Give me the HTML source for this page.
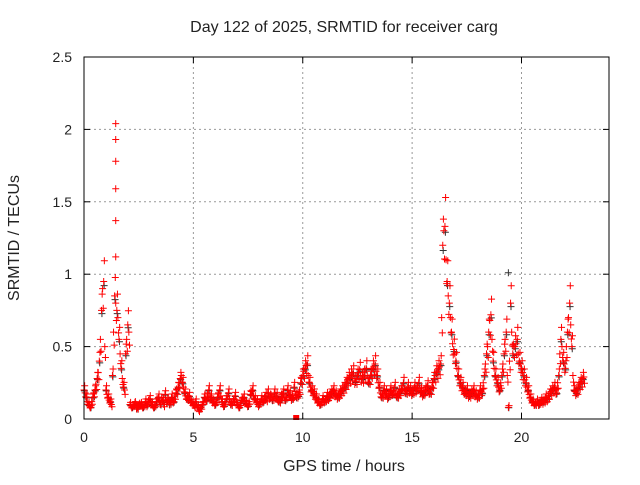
<!DOCTYPE html>
<html><head><meta charset="utf-8"><style>
body{margin:0;background:#fff;}
svg text{font-family:"Liberation Sans",sans-serif;font-size:14px;fill:#222;}
svg text.big{font-size:16px;}
</style></head><body>
<svg id="chart" width="640" height="480" xmlns="http://www.w3.org/2000/svg">
<text class="big" x="344" y="32" text-anchor="middle">Day 122 of 2025, SRMTID for receiver carg</text>
<text class="big" x="344" y="471" text-anchor="middle">GPS time / hours</text>
<text class="big" transform="translate(19,238) rotate(-90)" text-anchor="middle">SRMTID / TECUs</text>
<g id="grid"></g>
<g id="ticks"></g>
<g id="marks"></g>
<rect x="84" y="57" width="525" height="362" fill="none" stroke="#000" stroke-width="1"/>
</svg>
<script>
const xTicks=[0,5,10,15,20];
const yTicks=[0,0.5,1,1.5,2,2.5];
const yTickLabels=["0","0.5","1","1.5","2","2.5"];
const vals1=[0.2,0.15,0.1,0.08,0.15,0.2,0.28,0.4,0.75,0.95,
0.2,0.15,0.12,0.3,0.85,0.75,0.55,0.35,0.22,0.45,
0.65,0.1,0.08,0.1,0.07,0.09,0.1,0.08,0.12,0.1,
0.14,0.1,0.08,0.12,0.15,0.1,0.13,0.17,0.12,0.1,
0.15,0.12,0.18,0.22,0.28,0.25,0.18,0.14,0.16,0.12,
0.1,0.12,0.08,0.07,0.1,0.15,0.13,0.2,0.15,0.12,
0.1,0.15,0.2,0.12,0.09,0.14,0.18,0.1,0.12,0.16,
0.1,0.08,0.13,0.15,0.11,0.09,0.17,0.2,0.14,0.12,
0.1,0.14,0.12,0.16,0.18,0.15,0.13,0.18,0.16,0.12,
0.15,0.18,0.13,0.2,0.17,0.14,0.22,0.15,0.16,0.25,
0.3,0.35,0.38,0.25,0.2,0.18,0.15,0.12,0.1,0.14,
0.12,0.16,0.15,0.18,0.2,0.17,0.15,0.18,0.2,0.22,
0.25,0.28,0.3,0.32,0.26,0.3,0.34,0.28,0.3,0.35,
0.25,0.3,0.35,0.38,0.3,0.22,0.15,0.2,0.18,0.15,
0.2,0.17,0.22,0.15,0.18,0.2,0.25,0.18,0.22,0.2,
0.18,0.22,0.2,0.25,0.19,0.17,0.2,0.23,0.18,0.22,
0.28,0.32,0.35,0.38,1.2,1.33,0.95,0.8,0.6,0.48,
0.4,0.3,0.25,0.22,0.18,0.2,0.16,0.18,0.2,0.17,
0.15,0.2,0.18,0.3,0.45,0.6,0.72,0.4,0.3,0.25,
0.2,0.3,0.45,0.6,0.08,0.8,0.45,0.5,0.55,0.4,
0.35,0.3,0.25,0.2,0.15,0.12,0.1,0.12,0.1,0.13,
0.12,0.15,0.14,0.18,0.2,0.22,0.18,0.3,0.55,0.4,
0.35,0.6,0.8,0.5,0.2,0.18,0.22,0.25,0.28];
const vals2=[0.18,0.12,0.09,0.12,0.18,0.24,0.32,0.55,0.9,0.5,
0.17,0.13,0.1,0.6,0.8,0.7,0.45,0.28,0.2,0.55,
0.6,0.09,0.1,0.12,0.08,0.11,0.09,0.1,0.1,0.13,
0.12,0.09,0.1,0.14,0.12,0.15,0.1,0.13,0.15,0.12,
0.13,0.16,0.2,0.25,0.3,0.22,0.16,0.15,0.13,0.11,
0.09,0.1,0.06,0.08,0.12,0.14,0.18,0.16,0.13,0.11,
0.13,0.18,0.16,0.1,0.12,0.16,0.14,0.11,0.14,0.13,
0.09,0.11,0.14,0.13,0.1,0.12,0.19,0.16,0.13,0.1,
0.12,0.13,0.15,0.14,0.16,0.17,0.15,0.16,0.14,0.13,
0.17,0.15,0.16,0.18,0.15,0.16,0.19,0.17,0.2,0.28,
0.33,0.37,0.3,0.22,0.19,0.16,0.13,0.11,0.12,0.13,
0.14,0.15,0.17,0.19,0.18,0.16,0.17,0.19,0.21,0.24,
0.27,0.29,0.31,0.28,0.28,0.32,0.3,0.29,0.33,0.3,
0.28,0.33,0.36,0.33,0.25,0.18,0.17,0.19,0.16,0.18,
0.19,0.2,0.18,0.17,0.19,0.23,0.21,0.2,0.21,0.19,
0.2,0.21,0.23,0.21,0.18,0.19,0.22,0.2,0.2,0.25,
0.3,0.33,0.36,0.7,1.3,1.1,0.85,0.7,0.52,0.45,
0.35,0.27,0.23,0.2,0.19,0.17,0.17,0.19,0.18,0.16,
0.17,0.19,0.25,0.38,0.5,0.68,0.55,0.35,0.27,0.22,
0.25,0.38,0.55,0.3,0.4,0.6,0.5,0.52,0.45,0.38,
0.32,0.27,0.22,0.17,0.13,0.11,0.11,0.11,0.12,0.12,
0.13,0.14,0.16,0.19,0.21,0.2,0.25,0.45,0.5,0.38,
0.5,0.7,0.65,0.3,0.19,0.2,0.24,0.26,0.29];
const spikeTimes=[1.45,1.45,1.45,1.45,1.45,1.45,19.4];
const spikeVals=[2.04,1.93,1.78,1.59,1.37,1.12,1.01];
const zeroTimes=[9.7];
const zeroVals=[0];

const X0=84,X1=609,Y0=419,Y1=57,XMAX=24,YMAX=2.5;
const xs=t=>X0+t/XMAX*(X1-X0);
const ys=v=>Y0-v/YMAX*(Y0-Y1);
const NS="http://www.w3.org/2000/svg";
function mk(tag,parent){const e=document.createElementNS(NS,tag);parent.appendChild(e);return e;}
const grid=document.getElementById('grid'),ticks=document.getElementById('ticks'),marks=document.getElementById('marks');
xTicks.forEach(t=>{
  const x=xs(t);
  if(t>0){const g=mk('line',grid);
  
  
  g.setAttribute('x1',x);g.setAttribute('x2',x);g.setAttribute('y1',Y1);g.setAttribute('y2',Y0);
  g.setAttribute('stroke','#999');g.setAttribute('stroke-dasharray','2,3');}
  const tk=mk('line',ticks);
  
  
  tk.setAttribute('x1',x);tk.setAttribute('x2',x);tk.setAttribute('y1',Y0);tk.setAttribute('y2',Y0-6);tk.setAttribute('stroke','#000');
  const tk2=mk('line',ticks);
  
  
  tk2.setAttribute('x1',x);tk2.setAttribute('x2',x);tk2.setAttribute('y1',Y1);tk2.setAttribute('y2',Y1+6);tk2.setAttribute('stroke','#000');
  const lb=mk('text',ticks);
  
  
  lb.setAttribute('x',x);lb.setAttribute('y',Y0+23);lb.setAttribute('text-anchor','middle');lb.textContent=t;
});
yTicks.forEach((v,i)=>{
  const y=ys(v);
  if(v>0&&v<YMAX){const g=mk('line',grid);
  
  
  g.setAttribute('x1',X0);g.setAttribute('x2',X1);g.setAttribute('y1',y);g.setAttribute('y2',y);
  g.setAttribute('stroke','#999');g.setAttribute('stroke-dasharray','2,3');}
  const tk=mk('line',ticks);
  
  
  tk.setAttribute('x1',X0);tk.setAttribute('x2',X0+6);tk.setAttribute('y1',y);tk.setAttribute('y2',y);tk.setAttribute('stroke','#000');
  const tk2=mk('line',ticks);
  
  
  tk2.setAttribute('x1',X1);tk2.setAttribute('x2',X1-6);tk2.setAttribute('y1',y);tk2.setAttribute('y2',y);tk2.setAttribute('stroke','#000');
  const lb=mk('text',ticks);
  
  
  lb.setAttribute('x',X0-12);lb.setAttribute('y',y+5);lb.setAttribute('text-anchor','end');lb.textContent=yTickLabels[i];
});
function plus(t,v,color){
  const x=xs(t),y=ys(v);
  const p=mk('path',marks);
  
  
  p.setAttribute('d',`M${x-3.5},${y}H${x+3.5}M${x},${y-3.5}V${y+3.5}`);
  p.setAttribute('stroke',color);p.setAttribute('stroke-width','1');p.setAttribute('fill','none');
}
vals1.forEach((v,i)=>plus(i*0.1+0.02,v*0.97,'#333'));
vals1.forEach((v,i)=>{plus(i*0.1,v,'#f00');plus(i*0.1+0.03,v*1.15,'#f00');});
vals2.forEach((v,i)=>{plus(i*0.1+0.05,v,'#f00');plus(i*0.1+0.08,v*0.85,'#f00');});
spikeTimes.forEach((t,i)=>plus(t,spikeVals[i],i==spikeTimes.length-1?'#333':'#f00'));
zeroTimes.forEach((t,i)=>{
  const r=mk('rect',marks);
  
  
  r.setAttribute('x',xs(t)-3);r.setAttribute('y',ys(zeroVals[i])-4);r.setAttribute('width',6);r.setAttribute('height',5);r.setAttribute('fill','#f00');
});
</script>
</body></html>
